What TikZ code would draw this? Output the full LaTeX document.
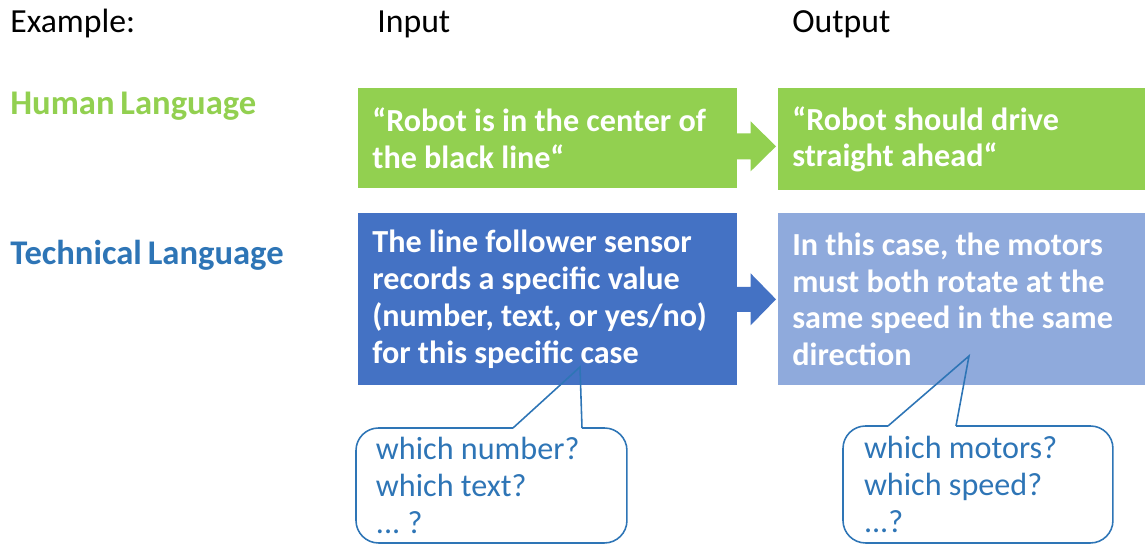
\documentclass[tikz,border=0pt]{standalone}
\usepackage{fontspec}
\setmainfont{Carlito}[WordSpace=0.75]
\usetikzlibrary{calc}
\definecolor{humangreen}{RGB}{146,208,80}
\definecolor{techblue}{RGB}{68,114,196}
\definecolor{techlight}{RGB}{143,170,220}
\definecolor{labelblue}{RGB}{46,117,182}
\tikzstyle{heading} = [anchor=base west, inner sep=0pt,
                       font=\fontsize{19.2}{22}\selectfont]
\tikzstyle{langlabel} = [anchor=base west, inner sep=0pt,
                         font=\bfseries\fontsize{19.7}{22}\selectfont]
\tikzstyle{box} = [rectangle, anchor=north west, inner xsep=0.28cm,
                   inner ysep=0pt, align=left, text=white,
                   font=\bfseries\fontsize{18.3}{21}\selectfont,
                   execute at begin node={\frenchspacing\spaceskip=0.226em\relax}]
\tikzstyle{callout} = [rectangle, rounded corners=0.45cm, anchor=north west,
                       draw=labelblue, line width=0.9pt, outer sep=0pt,
                       inner xsep=0.4cm, align=left, text=labelblue,
                       font=\fontsize{18.3}{21}\selectfont,
                       execute at begin node={\frenchspacing\spaceskip=0.226em\relax}]
\tikzstyle{pointer} = [draw=labelblue, line width=0.9pt, line join=miter]

\begin{document}
\begin{tikzpicture}[x=0.02cm, y=-0.02cm]
        \useasboundingbox (0,0) rectangle (1147,546);

        \node (example) [heading] at (10,33) {Example:};
        \node (input) [heading] at (377,33) {Input};
        \node (output) [heading] at (792,33) {Output};

        \node (human) [langlabel, text=humangreen] at (10,115) {Human Language};
        \node (technical) [langlabel, text=labelblue] at (10,265) {Technical Language};

        \node (hin) [box, fill=humangreen, minimum width=7.58cm, minimum height=2cm, text width=7.02cm] at (358,88) {“Robot is in the center of\\the black line“};
        \node (hout) [box, fill=humangreen, minimum width=7.34cm, minimum height=2.04cm, text width=6.78cm] at (778,88) {“Robot should drive\\straight ahead“};

        \node (tin) [box, fill=techblue, minimum width=7.58cm, minimum height=3.44cm, text width=7.02cm] at (358,213) {The line follower sensor\\records a specific value\\(number, text, or yes/no)\\for this specific case};
        \node (tout) [box, fill=techlight, minimum width=7.34cm, minimum height=3.44cm, text width=6.78cm] at (778,213) {In this case, the motors\\must both rotate at the\\same speed in the same\\direction};

        % block arrows
        \fill[humangreen] ($(hin.east)+(-2,-5)$) -- ($(hin.east)+(13,-5)$) -- ($(hin.east)+(13,-17)$)
            -- ($(hout.west)+(-2,7)$) -- ($(hin.east)+(13,33)$) -- ($(hin.east)+(13,21)$)
            -- ($(hin.east)+(-2,21)$) -- cycle;
        \fill[techblue] ($(tin.east)+(-2,-12.5)$) -- ($(tin.east)+(13,-12.5)$) -- ($(tin.east)+(13,-26)$)
            -- ($(tout.west)+(-2,0)$) -- ($(tin.east)+(13,26)$) -- ($(tin.east)+(13,12.5)$)
            -- ($(tin.east)+(-2,12.5)$) -- cycle;

        % callouts
        \node (qin) [callout, minimum width=5.42cm, minimum height=2.3cm, text width=4.62cm] at (356,428) {which number?\\which text?\\... ?};
        \coordinate (qintip) at (580,367);
        \draw[white, line width=1.6pt] ($(qin.north west)+(157,0)$) -- ($(qin.north west)+(226,0)$);
        \draw[pointer] ($(qin.north west)+(157,0)$) -- (qintip) -- ($(qin.north west)+(226,0)$);

        \node (qout) [callout, minimum width=5.4cm, minimum height=2.34cm, text width=4.56cm] at (843,426) {which motors?\\which speed?\\...?};
        \coordinate (qouttip) at (969,356);
        \draw[white, line width=1.6pt] ($(qout.north west)+(45,0)$) -- ($(qout.north west)+(113,0)$);
        \draw[pointer] ($(qout.north west)+(45,0)$) -- (qouttip) -- ($(qout.north west)+(113,0)$);

    \end{tikzpicture}
\end{document}
